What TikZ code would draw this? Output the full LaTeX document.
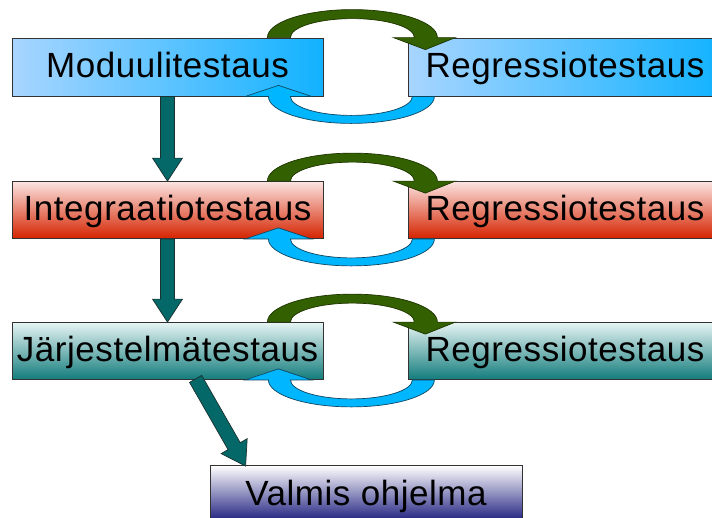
\documentclass[tikz,border=0pt]{standalone}
\usepackage{fontspec}
\setmainfont[LetterSpace=1.6]{Liberation Sans}
\usetikzlibrary{calc}
\definecolor{boxline}{HTML}{333333}
\definecolor{bluel}{HTML}{A8D5FF}
\definecolor{bluer}{HTML}{12B2FF}
\definecolor{redt}{HTML}{FBE4E1}
\definecolor{redb}{HTML}{D52300}
\definecolor{tealt}{HTML}{E6F4F3}
\definecolor{tealb}{HTML}{137C7C}
\definecolor{navyt}{HTML}{FFFFFF}
\definecolor{navyb}{HTML}{16167A}
\definecolor{tealc}{HTML}{056868}
\definecolor{tealline}{HTML}{1C3030}
\definecolor{greenc}{HTML}{336000}
\definecolor{greenline}{HTML}{1E3300}
\definecolor{cyanc}{HTML}{00B6FF}
\definecolor{cyanline}{HTML}{0F4660}
\newcommand\tealarrow[2]{%
  \coordinate (ta) at (#1);
  \coordinate (tb) at (#2);
  \coordinate (th) at ($(tb)!23pt!(ta)$);
  \filldraw[fill=tealc, draw=tealline, line width=0.7pt, line join=miter]
    ($(ta)!7pt!90:(tb)$) -- ($(th)!7pt!90:(tb)$) -- ($(th)!15pt!90:(tb)$) -- (tb)
    -- ($(th)!15pt!-90:(tb)$) -- ($(th)!7pt!-90:(tb)$) -- ($(ta)!7pt!-90:(tb)$) -- cycle;
}
\begin{document}
\begin{tikzpicture}[x=1pt,y=-1pt,
  box/.style={draw=boxline, line width=0.8pt, rectangle, inner sep=0pt,
    font=\fontsize{35}{42}\selectfont, text=black, text height=28pt, text depth=7pt},
  leftbox/.style={box, minimum width=311pt},
  rightbox/.style={box, minimum width=314pt},
  bluebox/.style={left color=bluel, right color=bluer},
  redbox/.style={top color=redt, bottom color=redb},
  tealbox/.style={top color=tealt, bottom color=tealb},
  navybox/.style={top color=navyt, bottom color=navyb},
  greenarrow/.style={fill=greenc, draw=greenline, line width=0.7pt},
  cyanarrow/.style={fill=cyanc, draw=cyanline, line width=0.7pt}]
\useasboundingbox (0,0) rectangle (712,517);
\fill[white] (0,0) rectangle (712,517);

% boxes
\node[leftbox, bluebox, minimum height=58pt] (m1) at (167.5,67) {Moduulitestaus};
\node[rightbox, bluebox, minimum height=58pt] (r1) at (565,67) {Regressiotestaus};
\node[leftbox, redbox, minimum height=57pt] (m2) at (167.5,210) {Integraatiotestaus};
\node[rightbox, redbox, minimum height=57pt] (r2) at (565,210) {Regressiotestaus};
\node[leftbox, tealbox, minimum height=57pt] (m3) at (167.5,351) {Järjestelmätestaus};
\node[rightbox, tealbox, minimum height=57pt] (r3) at (565,351) {Regressiotestaus};
\node[box, navybox, minimum width=312pt, minimum height=58pt] (v) at (366,494.5) {Valmis ohjelma};

% loops between each test box and its regression box
\foreach \n in {m1,m2,m3}{
  \begin{scope}[shift={(\n.north east)}]
    \filldraw[greenarrow] (-56,0) arc[start angle=180, end angle=360, x radius=85, y radius=28]
      -- (132,0) -- (102,12) -- (70,0) -- (91,0)
      arc[start angle=0, end angle=-180, x radius=62, y radius=19] -- cycle;
  \end{scope}
  \begin{scope}[shift={(\n.south east)}]
    \filldraw[cyanarrow] (111,0) arc[start angle=0, end angle=180, x radius=83, y radius=27]
      -- (-78,0) -- (-45,-11) -- (-12,0) -- (-33,0)
      arc[start angle=180, end angle=0, x radius=61, y radius=19] -- cycle;
  \end{scope}
}

% flow arrows
\tealarrow{m1.south}{m2.north}
\tealarrow{m2.south}{m3.north}
\coordinate (d1) at ($(m3.south west)+(184,-1)$);
\coordinate (d2) at ($(v.north west)+(36,1)$);
\tealarrow{d1}{d2}
\end{tikzpicture}
\end{document}
